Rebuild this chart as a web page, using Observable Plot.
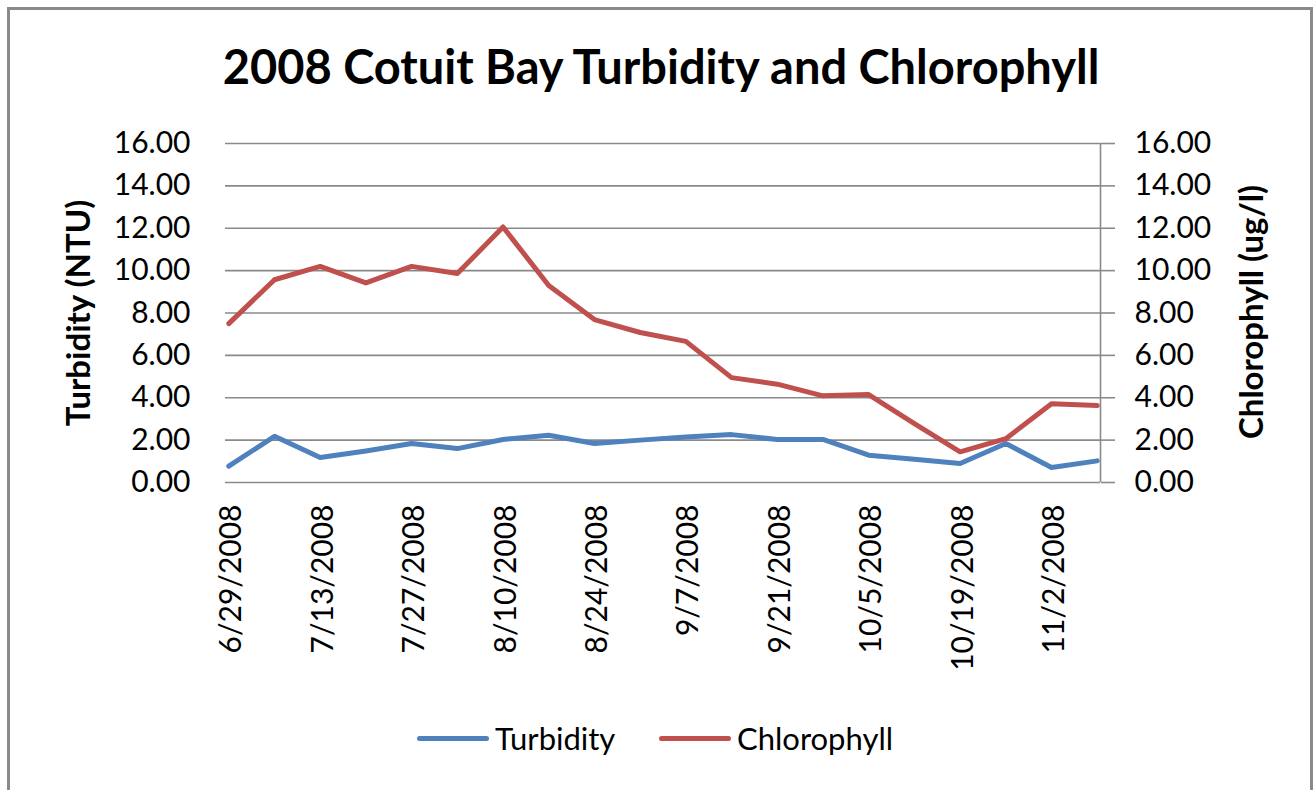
<!DOCTYPE html>
<html>
<head>
<meta charset="utf-8">
<script src="https://cdn.jsdelivr.net/npm/d3@7"></script>
<script src="https://cdn.jsdelivr.net/npm/@observablehq/plot@0.6"></script>
<style>
  html, body { margin: 0; padding: 0; background: #fff; overflow: hidden; }
  #wrap { position: relative; width: 1315px; height: 790px; font-family: Lato, Carlito, "Liberation Sans", sans-serif; }
  #border { position: absolute; left: 7px; top: 7px; width: 1306px; height: 900px; border: 3px solid #8a8a8a; box-sizing: border-box; pointer-events: none; }
  #legend { position: absolute; top: 718px; left: 0; width: 1315px; height: 40px; }
  .item { position: absolute; top: 0; display: flex; align-items: center; height: 40px; font-size: 31px; color: #000; }
  .sw { width: 72px; height: 5px; border-radius: 3px; margin-right: 6px; }
</style>
</head>
<body>
<div id="wrap">
  <div id="chart"></div>
  <div id="legend"></div>
  <div id="border"></div>
</div>
<script>
const dates = ["2008-06-29","2008-07-06","2008-07-13","2008-07-20","2008-07-27","2008-08-03","2008-08-10","2008-08-17","2008-08-24","2008-08-31","2008-09-07","2008-09-14","2008-09-21","2008-09-28","2008-10-05","2008-10-12","2008-10-19","2008-10-26","2008-11-02","2008-11-09"];
const turbidity = [0.77, 2.18, 1.18, 1.49, 1.84, 1.60, 2.03, 2.23, 1.84, 2.00, 2.15, 2.26, 2.03, 2.03, 1.29, 1.10, 0.90, 1.84, 0.71, 1.02];
const chlorophyll = [7.50, 9.57, 10.20, 9.42, 10.20, 9.86, 12.06, 9.30, 7.69, 7.08, 6.66, 4.95, 4.64, 4.09, 4.15, 2.78, 1.45, 2.07, 3.72, 3.63];
const xTickDates = ["2008-06-29","2008-07-13","2008-07-27","2008-08-10","2008-08-24","2008-09-07","2008-09-21","2008-10-05","2008-10-19","2008-11-02"];
const yTicks = [0, 2, 4, 6, 8, 10, 12, 14, 16];
const seriesNames = ["Turbidity", "Chlorophyll"];
const seriesColors = ["#4F81BD", "#C0504D"];
const titleText = "2008 Cotuit Bay Turbidity and Chlorophyll";
const leftTitle = "Turbidity (NTU)";
const rightTitle = "Chlorophyll (ug/l)";

const parse = s => new Date(s + "T00:00:00Z");
const rows = [];
dates.forEach((d, i) => {
  rows.push({date: parse(d), value: turbidity[i], series: seriesNames[0]});
  rows.push({date: parse(d), value: chlorophyll[i], series: seriesNames[1]});
});
const xDomain = [new Date(parse(dates[0]).getTime() - 12 * 3600e3), new Date(parse(dates[dates.length - 1]).getTime() + 12 * 3600e3)];
const fmtDate = d => `${d.getUTCMonth() + 1}/${d.getUTCDate()}/${d.getUTCFullYear()}`;
const grid = "#8a8a8a";

const chart = Plot.plot({
  width: 1315,
  height: 790,
  marginLeft: 225,
  marginRight: 215,
  marginTop: 143,
  marginBottom: 308,
  style: {fontFamily: "Lato, Carlito, 'Liberation Sans', sans-serif", background: "transparent", color: "#000", overflow: "visible"},
  x: {type: "utc", domain: xDomain},
  y: {domain: [0, 16]},
  color: {domain: seriesNames, range: seriesColors},
  marks: [
    Plot.ruleY(yTicks, {y: d => d, stroke: grid, strokeWidth: 1.6}),
    Plot.ruleX([xDomain[1]], {stroke: grid, strokeWidth: 1.6}),
    Plot.axisY({anchor: "left", ticks: yTicks, tickFormat: d => d.toFixed(2), tickSize: 0, tickPadding: 35, fontSize: 30, label: null}),
    Plot.axisY({anchor: "right", ticks: yTicks, tickFormat: d => d.toFixed(2), tickSize: 14, tickPadding: 20, stroke: grid, strokeWidth: 1.6, fontSize: 30, label: null}),
    Plot.axisX({ticks: xTickDates.map(parse), tickFormat: fmtDate, tickRotate: -90, tickSize: 0, tickPadding: 22, fontSize: 30, label: null, dx: 3}),
    Plot.lineY(rows, {x: "date", y: "value", z: "series", stroke: "series", strokeWidth: 5, strokeLinejoin: "round", strokeLinecap: "round"}),
    Plot.text([titleText], {frameAnchor: "top", dy: -93, dx: -2, fontSize: 47, fontWeight: "bold", text: d => d}),
    Plot.text([leftTitle], {frameAnchor: "left", rotate: -90, textAnchor: "middle", dx: -146, dy: 0, fontSize: 33, fontWeight: "bold", text: d => d}),
    Plot.text([rightTitle], {frameAnchor: "right", rotate: -90, textAnchor: "middle", dx: 152, dy: -1, fontSize: 33, fontWeight: "bold", text: d => d})
  ]
});
document.getElementById("chart").appendChild(chart);

const legend = document.getElementById("legend");
const legendLeft = [417, 659];
seriesNames.forEach((name, i) => {
  const item = document.createElement("div");
  item.className = "item";
  item.style.left = legendLeft[i] + "px";
  const sw = document.createElement("div");
  sw.className = "sw";
  sw.style.background = seriesColors[i];
  const t = document.createElement("span");
  t.textContent = name;
  item.appendChild(sw);
  item.appendChild(t);
  legend.appendChild(item);
});
</script>
</body>
</html>
